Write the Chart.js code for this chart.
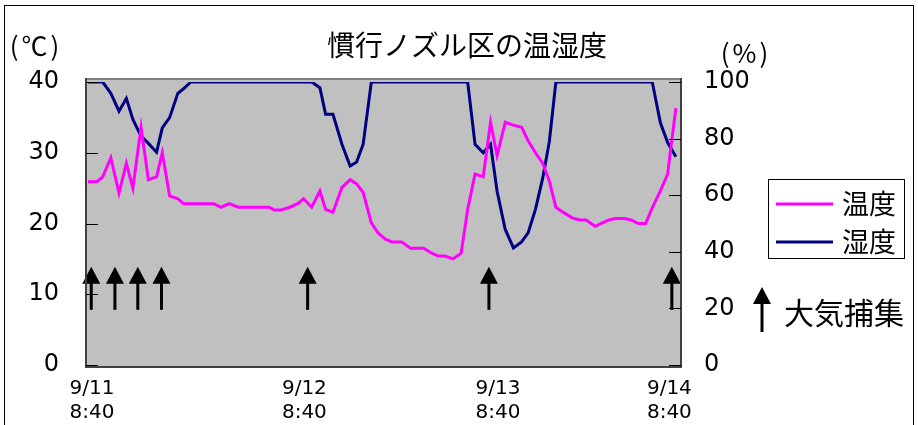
<!DOCTYPE html>
<html><head><meta charset="utf-8">
<script src="https://cdn.jsdelivr.net/npm/chart.js@4.4.0/dist/chart.umd.min.js"></script>
<style>html,body{margin:0;padding:0;background:#fff}#wrap{width:918px;height:425px;position:relative}</style>
</head><body><div id="wrap"><canvas id="c" width="918" height="425"></canvas></div>
<script>
// ---- data ----
const titleText = '慣行ノズル区の温湿度';
const tempUnit = '(℃)';
const humUnit = '(%)';
const seriesNames = ['温度', '湿度'];
const samplingLabel = '大気捕集';

// elapsed time (approx. hours since 9/11 8:40) of each reading
const timeX = [0.0,1.1,1.8,2.8,3.8,4.7,5.5,6.5,7.4,8.4,
  9.1,10.0,11.0,11.7,12.6,13.5,14.4,15.4,16.3,17.3,
  18.4,19.3,20.3,21.3,22.2,22.8,23.6,24.7,25.7,26.4,
  27.4,28.4,29.1,30.0,31.1,32.1,32.9,33.7,34.7,35.5,
  36.4,37.2,38.4,39.5,40.3,41.1,42.1,42.9,43.7,44.7,
  45.7,46.5,47.4,48.4,49.3,50.1,51.1,52.1,53.1,53.9,
  54.8,55.7,56.5,57.3,58.3,59.3,60.2,61.0,62.1,63.0,
  63.8,64.6,65.7,66.5,67.4,68.3,69.1,70.1,71.0,71.3,
  72.0];
const temperature = [25.9,25.9,26.6,29.3,24.3,28.5,25.0,33.6,26.2,26.6,
  30.0,23.9,23.5,22.8,22.8,22.8,22.8,22.8,22.3,22.8,
  22.3,22.3,22.3,22.3,22.3,21.9,21.9,22.3,22.8,23.5,
  22.3,24.6,22.0,21.6,25.1,26.2,25.6,24.4,20.1,18.7,
  17.8,17.4,17.4,16.5,16.5,16.5,15.8,15.4,15.4,15.0,
  15.8,22.0,27.0,26.6,34.3,29.6,34.3,33.9,33.6,31.7,
  30.0,28.5,26.0,22.3,21.5,20.8,20.5,20.5,19.6,20.1,
  20.5,20.7,20.7,20.5,20.0,20.0,22.2,24.6,27.0,30.0,
  36.3];
const humidity = [100,100,100,96.0,89.7,94.2,86.8,80.9,78.3,75.2,
  83.8,87.4,96.0,97.6,100,100,100,100,100,100,
  100,100,100,100,100,100,100,100,100,100,
  100,98.0,88.6,88.6,78.0,70.3,71.7,78.0,100,100,
  100,100,100,100,100,100,100,100,100,100,
  100,100,78.0,75.0,78.0,61.4,47.9,41.4,43.5,46.7,
  55.0,66.2,79.0,100,100,100,100,100,100,100,
  100,100,100,100,100,100,100,85.6,78.5,77.0,
  73.6];

const xTickValues = [0.5, 26.5, 50.2, 71.2];
const xTickLabels = [['9/11','8:40'],['9/12','8:40'],['9/13','8:40'],['9/14','8:40']];
const tempTicks = [0, 10, 20, 30, 40];
const humTicks = [0, 20, 40, 60, 80, 100];
const samplingTimes = [0.4, 3.3, 6.1, 9.0, 26.9, 49.1, 71.5];
const samplingTipC = 13.9;
const samplingBaseC = 7.8;

// ---- styles ----
const MAGENTA = '#FF00FF', NAVY = '#000080';
const NUM_FONT = '"DejaVu Sans", "Liberation Sans", sans-serif';
const JP_FONT = '"Noto Sans CJK JP", "Noto Sans", sans-serif';

function drawArrow(ctx, x, yTip, yBottom) {
  const headW = 18, headH = 17;
  ctx.save();
  ctx.fillStyle = '#000';
  ctx.strokeStyle = '#000';
  ctx.lineWidth = 3;
  ctx.beginPath();
  ctx.moveTo(x, yTip + headH - 1);
  ctx.lineTo(x, yBottom);
  ctx.stroke();
  ctx.beginPath();
  ctx.moveTo(x, yTip);
  ctx.lineTo(x - headW / 2, yTip + headH);
  ctx.lineTo(x + headW / 2, yTip + headH);
  ctx.closePath();
  ctx.fill();
  ctx.restore();
}

const framePlugin = {
  id: 'frame',
  beforeDatasetsDraw(chart) {
    const {ctx, chartArea: a} = chart;
    ctx.save();
    ctx.fillStyle = '#C0C0C0';
    ctx.fillRect(a.left, a.top - 3, a.right - a.left, a.bottom - a.top + 5);
    ctx.restore();
  },
  afterDatasetsDraw(chart) {
    const {ctx, chartArea: a, scales} = chart;
    samplingTimes.forEach(t => {
      drawArrow(ctx, scales.x.getPixelForValue(t), scales.yT.getPixelForValue(samplingTipC), scales.yT.getPixelForValue(samplingBaseC));
    });
    ctx.save();
    ctx.strokeStyle = '#808080';
    ctx.lineWidth = 2;
    ctx.strokeRect(a.left - 1, a.top - 3, a.right - a.left + 2, a.bottom - a.top + 5);
    ctx.strokeStyle = '#404040';
    ctx.beginPath();
    ctx.moveTo(a.left - 1, a.top - 4); ctx.lineTo(a.left - 1, a.bottom + 3);
    ctx.moveTo(a.right + 1, a.top - 4); ctx.lineTo(a.right + 1, a.bottom + 3);
    ctx.moveTo(a.left - 2, a.bottom + 2); ctx.lineTo(a.right + 2, a.bottom + 2);
    ctx.stroke();
    ctx.strokeStyle = '#000';
    ctx.lineWidth = 1;
    ctx.beginPath();
    tempTicks.forEach(v => {
      const y = Math.round(scales.yT.getPixelForValue(v)) + 0.5;
      ctx.moveTo(a.left - 1, y); ctx.lineTo(a.left + 11, y);
    });
    humTicks.forEach(v => {
      const y = Math.round(scales.yH.getPixelForValue(v)) + 0.5;
      ctx.moveTo(a.right + 1, y); ctx.lineTo(a.right - 11, y);
    });
    ctx.stroke();
    ctx.restore();
  },
  afterDraw(chart) {
    const {ctx} = chart;
    ctx.save();
    ctx.strokeStyle = '#000';
    ctx.lineWidth = 1;
    ctx.strokeRect(4.5, 5.5, 909, 440);
    ctx.fillStyle = '#000';
    ctx.textAlign = 'center';
    ctx.textBaseline = 'middle';
    ctx.font = '28px ' + JP_FONT;
    ctx.fillText(titleText, 467, 45);
    ctx.font = '26px ' + JP_FONT;
    ctx.letterSpacing = '3px';
    ctx.fillText(tempUnit, 36, 46);
    ctx.fillText(humUnit, 746, 53);
    ctx.letterSpacing = '0px';
    ctx.lineWidth = 1;
    ctx.strokeStyle = '#000';
    ctx.strokeRect(768.5, 179.5, 136, 79);
    const ds = chart.data.datasets;
    const rows = [204, 242];
    ds.forEach((d, i) => {
      ctx.strokeStyle = d.borderColor;
      ctx.lineWidth = 3;
      ctx.beginPath();
      ctx.moveTo(776, rows[i]); ctx.lineTo(833, rows[i]);
      ctx.stroke();
      ctx.fillStyle = '#000';
      ctx.textAlign = 'left';
      ctx.font = '27px ' + JP_FONT;
      ctx.fillText(d.label, 842, rows[i]);
    });
    drawArrow(ctx, 762, 287, 332);
    ctx.font = '30px ' + JP_FONT;
    ctx.textAlign = 'left';
    ctx.fillText(samplingLabel, 784, 313);
    ctx.restore();
  }
};

new Chart(document.getElementById('c'), {
  type: 'line',
  data: {
    datasets: [
      {label: seriesNames[0], data: timeX.map((x, i) => ({x, y: temperature[i]})), borderColor: MAGENTA, backgroundColor: MAGENTA, yAxisID: 'yT', borderWidth: 3, pointRadius: 0, tension: 0, fill: false},
      {label: seriesNames[1], data: timeX.map((x, i) => ({x, y: humidity[i]})), borderColor: NAVY, backgroundColor: NAVY, yAxisID: 'yH', borderWidth: 3, pointRadius: 0, tension: 0, fill: false}
    ]
  },
  options: {
    responsive: false,
    animation: false,
    layout: {padding: {top: 82, left: 0, right: 0, bottom: 0}},
    plugins: {legend: {display: false}, title: {display: false}, tooltip: {enabled: false}},
    scales: {
      x: {
        type: 'linear', min: -0.12, max: 72.5,
        grid: {display: false, drawTicks: false}, border: {display: false},
        afterFit(s) { s.height = 60; },
        afterBuildTicks(s) { s.ticks = xTickValues.map(v => ({value: v})); },
        ticks: {autoSkip: false, maxRotation: 0, minRotation: 0, padding: 12, color: '#000',
          font: {family: NUM_FONT, size: 20}, callback: (v, i) => xTickLabels[i]}
      },
      yT: {
        type: 'linear', position: 'left', min: 0, max: 40,
        grid: {display: false, drawTicks: false}, border: {display: false},
        afterFit(s) { s.width = 87; },
        afterBuildTicks(s) { s.ticks = tempTicks.map(v => ({value: v})); },
        ticks: {padding: 28, color: '#000', font: {family: NUM_FONT, size: 24}}
      },
      yH: {
        type: 'linear', position: 'right', min: 0, max: 100,
        grid: {display: false, drawTicks: false}, border: {display: false},
        afterFit(s) { s.width = 238; },
        afterBuildTicks(s) { s.ticks = humTicks.map(v => ({value: v})); },
        ticks: {padding: 24, color: '#000', font: {family: NUM_FONT, size: 24}}
      }
    }
  },
  plugins: [framePlugin]
});
</script>
</body></html>
